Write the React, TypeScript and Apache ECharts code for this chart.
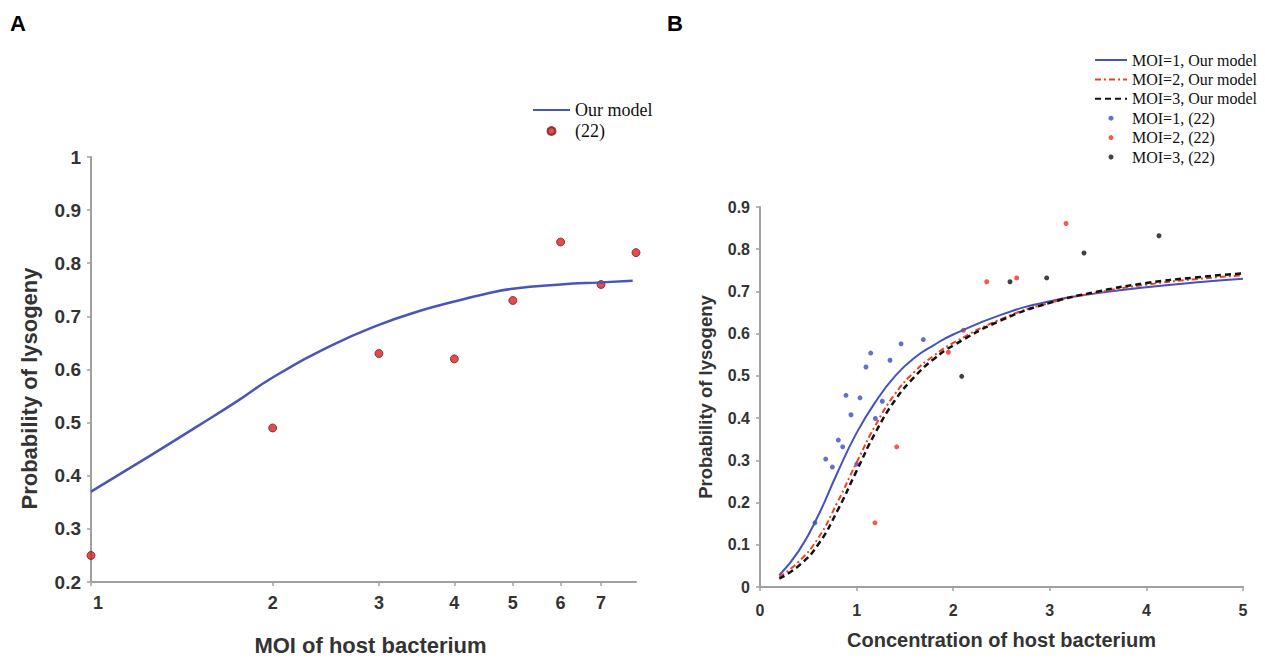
import React, { useEffect, useRef } from "react";
import * as echarts from "echarts";

// Panel A: MOI (log axis)
const moiTicks = [1, 2, 3, 4, 5, 6, 7];
const modelAX = [1, 1.25, 1.5, 1.75, 2, 2.5, 3, 3.5, 4, 4.5, 5, 6, 7, 7.9];
const modelAY = [0.37, 0.437, 0.493, 0.541, 0.585, 0.645, 0.684, 0.71, 0.728, 0.742, 0.752, 0.76, 0.764, 0.767];
const obsAX = [1, 2, 3, 4, 5, 6, 7, 8];
const obsAY = [0.25, 0.49, 0.63, 0.62, 0.73, 0.84, 0.76, 0.82];

// Panel B: concentration
const concGrid = [0.2, 0.4, 0.6, 0.8, 1.0, 1.2, 1.4, 1.6, 1.8, 2.0, 2.5, 3.0, 3.5, 4.0, 4.5, 5.0];
const moi1Model = [0.028, 0.085, 0.168, 0.27, 0.365, 0.44, 0.5, 0.543, 0.573, 0.598, 0.645, 0.677, 0.696, 0.71, 0.721, 0.73];
const moi2Model = [0.024, 0.06, 0.115, 0.2, 0.295, 0.385, 0.458, 0.51, 0.548, 0.578, 0.635, 0.673, 0.698, 0.716, 0.729, 0.738];
const moi3Model = [0.02, 0.05, 0.1, 0.18, 0.275, 0.368, 0.443, 0.498, 0.54, 0.572, 0.632, 0.673, 0.7, 0.72, 0.733, 0.743];
const moi1Obs = [
  [0.569, 0.152], [0.68, 0.303], [0.749, 0.284], [0.811, 0.348], [0.856, 0.332], [0.89, 0.454],
  [0.942, 0.408], [1.001, 0.291], [1.035, 0.448], [1.097, 0.521], [1.146, 0.554], [1.194, 0.399],
  [1.266, 0.44], [1.346, 0.537], [1.46, 0.576], [1.69, 0.586],
];
const moi2Obs = [
  [1.19, 0.152], [1.415, 0.332], [1.95, 0.556], [2.105, 0.608], [2.347, 0.723], [2.657, 0.732], [3.168, 0.861],
];
const moi3Obs = [
  [2.088, 0.499], [2.588, 0.723], [2.968, 0.732], [3.354, 0.791], [4.13, 0.832],
];

const SANS = "Liberation Sans";
const SERIF = "Liberation Serif";
const AXIS_COLOR = "#a0a0a0";
const TEXT_COLOR = "#333";

export default function App() {
  const ref = useRef<HTMLDivElement>(null);
  useEffect(() => {
    if (!ref.current) return;
    const chart = echarts.init(ref.current, undefined, { renderer: "svg" });
    const axisLine = { lineStyle: { color: AXIS_COLOR, width: 2 } };
    const axisTick = { show: true, length: 4, lineStyle: { color: AXIS_COLOR, width: 1.5 } };
    const hideSym = { itemStyle: { opacity: 0 } };
    const option: any = {
      animation: false,
      backgroundColor: "#fff",
      graphic: [
        { type: "text", left: 10, top: 12, style: { text: "A", font: `bold 22px ${SANS}`, fill: "#000" } },
        { type: "text", left: 667, top: 12, style: { text: "B", font: `bold 22px ${SANS}`, fill: "#000" } },
      ],
      legend: [
        {
          data: [{ name: "Our model", ...hideSym }, { name: "(22)" }],
          orient: "vertical",
          left: 527,
          top: 96,
          itemWidth: 37,
          itemHeight: 8,
          itemGap: 3,
          textStyle: { fontFamily: SERIF, fontSize: 18, color: "#111" },
        },
        {
          data: [
            { name: "MOI=1, Our model", ...hideSym },
            { name: "MOI=2, Our model", ...hideSym },
            { name: "MOI=3, Our model", ...hideSym },
            { name: "MOI=1, (22)" },
            { name: "MOI=2, (22)" },
            { name: "MOI=3, (22)" },
          ],
          orient: "vertical",
          left: 1089,
          top: 47,
          itemWidth: 32,
          itemHeight: 5,
          itemGap: 3.4,
          textStyle: { fontFamily: SERIF, fontSize: 16, color: "#111" },
        },
      ],
      grid: [
        { left: 91, top: 157, width: 545, height: 430 },
        { left: 760, top: 207, width: 483, height: 380 },
      ],
      xAxis: [
        {
          gridIndex: 0,
          type: "log",
          logBase: 10,
          min: 1,
          max: 8,
          name: "MOI of host bacterium",
          nameLocation: "middle",
          nameGap: 52,
          nameTextStyle: {
            fontFamily: SANS, fontWeight: "bold", fontSize: 22, color: TEXT_COLOR, padding: [0, 0, 0, 14],
          },
          axisLine,
          axisTick: { ...axisTick, customValues: moiTicks },
          splitLine: { show: false },
          minorTick: { show: false },
          axisLabel: {
            customValues: moiTicks,
            formatter: (v: number) => (Math.round(v) === 1 ? "{one|1}" : String(Math.round(v))),
            rich: {
              one: { fontFamily: SANS, fontWeight: "bold", fontSize: 18, color: TEXT_COLOR, padding: [0, 0, 0, 14] },
            },
            fontFamily: SANS,
            fontWeight: "bold",
            fontSize: 18,
            color: TEXT_COLOR,
            margin: 12,
          },
        },
        {
          gridIndex: 1,
          type: "value",
          min: 0,
          max: 5,
          interval: 1,
          name: "Concentration of host bacterium",
          nameLocation: "middle",
          nameGap: 43,
          nameTextStyle: { fontFamily: SANS, fontWeight: "bold", fontSize: 20, color: TEXT_COLOR },
          axisLine,
          axisTick,
          splitLine: { show: false },
          axisLabel: { fontFamily: SANS, fontWeight: "bold", fontSize: 16, color: TEXT_COLOR, margin: 15 },
        },
      ],
      yAxis: [
        {
          gridIndex: 0,
          type: "value",
          min: 0.2,
          max: 1,
          interval: 0.1,
          name: "Probability of lysogeny",
          nameLocation: "middle",
          nameGap: 51,
          nameTextStyle: {
            fontFamily: SANS, fontWeight: "bold", fontSize: 22, color: TEXT_COLOR, padding: [0, 38, 0, 0],
          },
          axisLine: { show: true, ...axisLine },
          axisTick,
          splitLine: { show: false },
          axisLabel: { fontFamily: SANS, fontWeight: "bold", fontSize: 19, color: TEXT_COLOR, margin: 10 },
        },
        {
          gridIndex: 1,
          type: "value",
          min: 0,
          max: 0.9,
          interval: 0.1,
          name: "Probability of lysogeny",
          nameLocation: "middle",
          nameGap: 45,
          nameTextStyle: { fontFamily: SANS, fontWeight: "bold", fontSize: 18.5, color: TEXT_COLOR },
          axisLine: { show: true, ...axisLine },
          axisTick,
          splitLine: { show: false },
          axisLabel: { fontFamily: SANS, fontWeight: "bold", fontSize: 16, color: TEXT_COLOR, margin: 10 },
        },
      ],
      series: [
        {
          name: "Our model",
          type: "line",
          xAxisIndex: 0,
          yAxisIndex: 0,
          smooth: true,
          symbol: "none",
          lineStyle: { color: "#4a55b8", width: 2.5 },
          itemStyle: { color: "#4a55b8" },
          data: modelAX.map((x, i) => [x, modelAY[i]]),
        },
        {
          name: "(22)",
          type: "scatter",
          xAxisIndex: 0,
          yAxisIndex: 0,
          symbolSize: 8,
          itemStyle: { color: "#dc1f1f", borderColor: "#6e2020", borderWidth: 1 },
          data: obsAX.map((x, i) => [x, obsAY[i]]),
        },
        {
          name: "MOI=1, Our model",
          type: "line",
          xAxisIndex: 1,
          yAxisIndex: 1,
          smooth: true,
          symbol: "none",
          lineStyle: { color: "#4452bd", width: 2 },
          itemStyle: { color: "#4452bd" },
          data: concGrid.map((x, i) => [x, moi1Model[i]]),
        },
        {
          name: "MOI=2, Our model",
          type: "line",
          xAxisIndex: 1,
          yAxisIndex: 1,
          smooth: true,
          symbol: "none",
          lineStyle: { color: "#f0401e", width: 2, type: [6, 3, 2, 3] },
          itemStyle: { color: "#f0401e" },
          data: concGrid.map((x, i) => [x, moi2Model[i]]),
        },
        {
          name: "MOI=3, Our model",
          type: "line",
          xAxisIndex: 1,
          yAxisIndex: 1,
          smooth: true,
          symbol: "none",
          lineStyle: { color: "#111", width: 2.5, type: [6, 4] },
          itemStyle: { color: "#111" },
          data: concGrid.map((x, i) => [x, moi3Model[i]]),
        },
        {
          name: "MOI=1, (22)",
          type: "scatter",
          xAxisIndex: 1,
          yAxisIndex: 1,
          symbolSize: 5,
          itemStyle: { color: "#3a4cc0" },
          data: moi1Obs,
        },
        {
          name: "MOI=2, (22)",
          type: "scatter",
          xAxisIndex: 1,
          yAxisIndex: 1,
          symbolSize: 5,
          itemStyle: { color: "#f03020" },
          data: moi2Obs,
        },
        {
          name: "MOI=3, (22)",
          type: "scatter",
          xAxisIndex: 1,
          yAxisIndex: 1,
          symbolSize: 5,
          itemStyle: { color: "#111" },
          data: moi3Obs,
        },
      ],
    };
    chart.setOption(option);
    return () => chart.dispose();
  }, []);
  return (
    <div
      ref={ref}
      style={{ position: "absolute", left: 0, top: 0, width: 1265, height: 661, background: "#fff" }}
    />
  );
}
